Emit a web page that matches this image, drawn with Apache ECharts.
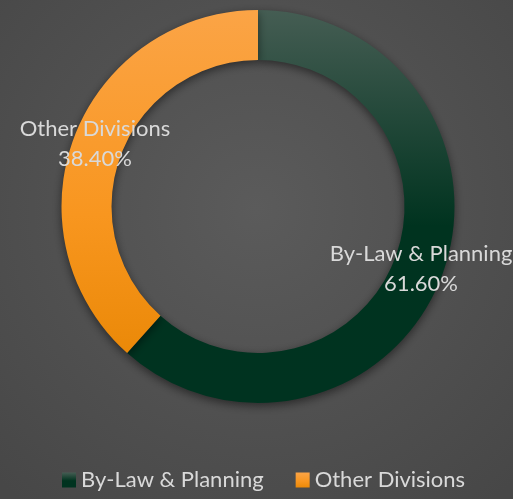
<!DOCTYPE html>
<html>
<head>
<meta charset="utf-8">
<script src="https://cdn.jsdelivr.net/npm/echarts@6/dist/echarts.min.js"></script>
<style>
  html, body { margin: 0; padding: 0; background: #505050; }
  #chart { width: 513px; height: 499px; }
</style>
</head>
<body>
<div id="chart"></div>
<script>
// Share of work by division
const categories = ['By-Law & Planning', 'Other Divisions'];
const shares = [61.6, 38.4];

const fills = [
  { type: 'linear', x: 0, y: 0, x2: 0, y2: 1, colorStops: [
    { offset: 0, color: '#455d53' },
    { offset: 0.55, color: '#00331f' },
    { offset: 1, color: '#003320' }
  ] },
  { type: 'linear', x: 0, y: 0, x2: 0, y2: 1, colorStops: [
    { offset: 0, color: '#fba446' },
    { offset: 0.6, color: '#f8961f' },
    { offset: 1, color: '#eb8908' }
  ] }
];

const chart = echarts.init(document.getElementById('chart'), null, { renderer: 'canvas' });
const font = 'Lato, "Open Sans", sans-serif';

chart.setOption({
  backgroundColor: {
    type: 'radial', x: 0.5, y: 0.42, r: 0.75,
    colorStops: [
      { offset: 0, color: '#5b5b5b' },
      { offset: 1, color: '#474747' }
    ]
  },
  animation: false,
  legend: {
    bottom: 3,
    left: 57,
    itemWidth: 14,
    itemHeight: 15,
    itemGap: 32,
    icon: 'rect',
    textStyle: { color: '#d9d9d9', fontSize: 22, fontFamily: font },
    data: categories
  },
  series: [{
    type: 'pie',
    center: [258, 206.5],
    radius: [146.5, 196.5],
    startAngle: 90,
    clockwise: true,
    avoidLabelOverlap: false,
    label: {
      show: true,
      position: 'inside',
      color: '#d9d9d9',
      fontSize: 22,
      fontFamily: font,
      lineHeight: 30,
      formatter: p => p.name + '\n' + p.value.toFixed(2) + '%'
    },
    labelLine: { show: false },
    emphasis: { disabled: true },
    itemStyle: {
      shadowBlur: 10,
      shadowOffsetY: 3,
      shadowColor: 'rgba(0,0,0,0.5)'
    },
    data: categories.map((c, i) => ({
      name: c,
      value: shares[i],
      itemStyle: { color: fills[i] }
    }))
  }]
});
</script>
</body>
</html>
